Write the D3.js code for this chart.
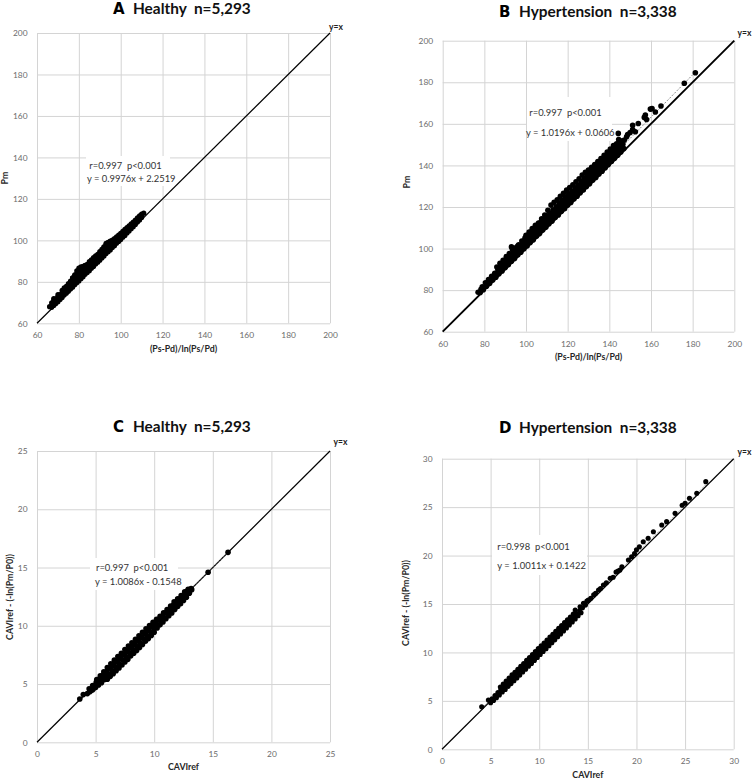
<!DOCTYPE html>
<html><head><meta charset="utf-8">
<script src="https://cdn.jsdelivr.net/npm/d3@7"></script>
<style>
body{margin:0;background:#fff}
svg{display:block}
</style></head><body>
<svg id="chart" width="753" height="779"></svg>
<script>
// ---------------- DATA ----------------
const panelLetters = ["A", "B", "C", "D"];
const panelTitles = ["Healthy\u00a0\u00a0n=5,293", "Hypertension\u00a0\u00a0n=3,338", "Healthy\u00a0\u00a0n=5,293", "Hypertension\u00a0\u00a0n=3,338"];
const xAxisTitles = ["(Ps-Pd)/ln(Ps/Pd)", "(Ps-Pd)/ln(Ps/Pd)", "CAVIref", "CAVIref"];
const yAxisTitles = ["Pm", "Pm", "CAVIref - (-ln(Pm/P0))", "CAVIref - (-ln(Pm/P0))"];
const statLines = [
  ["r=0.997\u00a0\u00a0p<0.001", "y = 0.9976x + 2.2519"],
  ["r=0.997\u00a0\u00a0p<0.001", "y = 1.0196x + 0.0606"],
  ["r=0.997\u00a0\u00a0p<0.001", "y = 1.0086x - 0.1548"],
  ["r=0.998\u00a0\u00a0p<0.001", "y = 1.0011x + 0.1422"]
];
const regSlopes = [0.9976, 1.0196, 1.0086, 1.0011];
const regIntercepts = [2.2519, 0.0606, -0.1548, 0.1422];
const identityLabel = "y=x";
const pressureTicks = [60, 80, 100, 120, 140, 160, 180, 200];
const caviTicksHealthy = [0, 5, 10, 15, 20, 25];
const caviTicksHypertension = [0, 5, 10, 15, 20, 25, 30];

// Panel A: Healthy, Pm vs (Ps-Pd)/ln(Ps/Pd)
const healthyPm = [
 [66,68.0],[67,67.7],[68,68.6],[69,69.5],[70,70.4],[71,71.5],[72,72.4],[73,73.6],[74,74.5],[75,75.4],[76,76.5],[77,77.4],[78,78.6],[79,79.5],[80,80.4],[81,81.5],[82,82.4],[83,83.6],[84,84.5],[85,85.4],[86,86.5],[87,87.4],[88,88.6],[89,89.5],[90,90.4],[91,91.5],[92,92.4],[93,93.6],[94,94.5],[95,95.4],[96,96.5],[97,97.4],[98,98.6],[99,99.5],[100,100.4],[101,101.5],[102,102.4],[103,103.6],[104,104.5],[105,105.6],[106,106.6],[107,107.7],[108,108.8],[109,109.8],[110,111.0],
 [67,69.9],[68,71.1],[69,71.8],[70,72.9],[71,73.8],[72,74.7],[73,75.9],[74,76.8],[75,77.7],[76,78.9],[77,79.8],[78,80.7],[79,81.9],[80,82.8],[81,83.7],[82,84.9],[83,85.8],[84,86.7],[85,87.9],[86,88.8],[87,89.7],[88,90.9],[89,91.8],[90,92.7],[91,93.9],[92,94.8],[93,95.7],[94,96.9],[95,97.8],[96,98.7],[97,99.8],[98,100.7],[99,101.6],[100,102.7],[101,103.6],[102,104.6],[103,105.6],[104,106.5],[105,107.5],[106,108.4],[107,109.4],[108,110.4],[109,111.3],[110,112.2],[111,113.1],
 [77,81.8],[78,82.7],[79,83.9],[80,84.8],[81,85.7],[82,86.9],[83,87.8],[92,96.7],[93,97.9],[94,98.8],[95,99.7],
 [68,71.9],[70,73.8],[72,75.9],[73,77.1],[74,77.8],[75,79.2],[76,80.4],[77,81.9],[78,83.4],[79,85.3],[80,86.6],[81,87.2],[82,87.5],[83,87.9],[84,88.4],[85,89.7],[86,90.6],[87,91.7],[88,92.5],[89,93.3],[90,94.6],[91,95.7],[92,96.9],[93,98.6],[94,99.0],[95,99.4],[96,100.1],[97,100.8],[98,101.7],[99,102.5],[100,103.4],[101,104.3],[102,105.3],[103,106.2],[104,107.0],[105,108.0],[106,108.8],[107,109.8],[108,110.9],[109,111.8],[110,112.7]
];

// Panel B: Hypertension, Pm vs (Ps-Pd)/ln(Ps/Pd)
const hypertensionPm = [
 [77,79.0],[78.4,80.4],
 [78,78.9],[79.5,80.2],[81,81.9],[82.5,83.2],[84,84.9],[85.5,86.2],[87,87.9],[88.5,89.2],[90,90.9],[91.5,92.2],[93,93.9],[94.5,95.2],[96,96.9],[97.5,98.2],[99,99.9],[100.5,101.2],[102,102.9],[103.5,104.2],[105,105.9],[106.5,107.2],[108,108.9],[109.5,110.2],[111,111.9],[112.5,113.2],[114,114.9],[115.5,116.2],[117,117.9],[118.5,119.2],[120,120.9],[121.5,122.2],[123,123.9],[124.5,125.2],[126,126.9],[127.5,128.2],[129,129.9],[130.5,131.2],[132,132.9],[133.5,134.2],[135,135.9],[136.5,137.2],[138,138.9],[139.5,140.4],[141,141.9],[142.5,143.4],[144,144.9],[145.5,146.5],[147,148.1],
 [79,81.6],[80.5,83.5],[82,85.1],[83.5,86.6],[85,88.1],[86.5,89.8],[88,91.2],[89.5,92.6],[91,94.3],[92.5,95.6],[94,97.3],[95.5,98.6],[97,100.3],[98.5,101.7],[100,103.2],[101.5,104.8],[103,106.2],[104.5,107.8],[106,109.3],[107.5,110.7],[109,112.3],[110.5,113.8],[112,115.3],[113.5,116.8],[115,118.3],[116.5,119.8],[118,121.3],[119.5,122.8],[121,124.3],[122.5,125.8],[124,127.3],[125.5,128.8],[127,130.3],[128.5,131.8],[130,133.3],[131.5,134.8],[133,136.3],[134.5,137.8],[136,139.3],[137.5,140.8],[139,142.3],[140.5,143.8],[142,145.4],[143.5,146.9],[145,148.6],[146.5,150.2],
 [86,91.1],[87.5,92.9],[89,94.3],[90.5,96.1],[92,97.6],[93.5,99.6],[95,100.4],[96.5,101.8],[98,103.6],[99.5,105.0],[101,106.4],[102.5,108.1],[104,109.6],[105.5,111.2],[107,112.5],[108.5,114.1],[110,115.7],[111.5,117.1],[113,118.6],[114.5,120.1],[116,121.6],[117.5,123.1],[119,124.6],[120.5,126.1],[122,127.6],[123.5,129.2],[125,130.6],[126.5,132.1],[128,133.7],[129.5,135.1],[131,136.6],[132.5,138.1],[134,139.6],[135.5,141.2],[137,142.6],[138.5,144.1],[140,145.6],[141.5,147.2],[143,148.6],[144.5,150.3],[146,151.7],
 [93,100.8],[96,101.2],[100,106.4],[101.5,107.9],[103,109.6],[104.5,111.2],[106,112.3],[107.5,114.3],[109,116.1],[110.5,118.4],[112,120.9],[113.5,122.3],[115,123.4],[116.5,125.2],[118,126.6],[119.5,128.1],[121,129.4],[122.5,130.7],[124,132.1],[125.5,133.6],[127,135.4],[128.5,136.7],[130,137.8],[131.5,139.1],[133,140.4],[134.5,141.8],[136,143.3],[137.5,144.9],[139,146.4],[140.5,147.9],[142,149.6],[143.5,150.4],[145,151.8],
 [144.3,155.4],[144.5,152.5],[146,150.3],[147.2,152.2],[148.3,153.8],[148.8,154.9],[150,155.8],[151.2,157.3],[151.2,159.3],[152.5,156.2],[153.9,160.2],[156.8,163.1],[157.3,164.2],[157.9,162.1],[159.7,167.1],[160.5,167.3],[162.1,165.7],[164.8,168.6],[176,179.5],[181.3,184.6]
];

// Panel C: Healthy, CAVIref-(-ln(Pm/P0)) vs CAVIref
const healthyCavi = [
 [3.65,3.72],[3.95,4.1],[4.3,4.18],[4.5,4.34],[4.45,4.6],
 [4.75,4.5],[5,4.7],[5.25,4.92],[5.5,5.12],[5.75,5.38],[6,5.42],[6.25,5.66],[6.5,5.88],[6.75,6.15],[7,6.38],[7.25,6.63],[7.5,6.9],[7.75,7.12],[8,7.42],[8.25,7.65],[8.5,7.88],[8.75,8.14],[9,8.4],[9.25,8.68],[9.5,8.9],[9.75,9.16],[10,9.45],[10.25,9.82],[10.5,10.08],[10.75,10.33],[11,10.6],[11.25,10.86],[11.5,11.1],[11.75,11.4],[12,11.66],[12.25,11.9],[12.5,12.18],[12.75,12.45],
 [4.6,4.45],[4.9,4.68],[5.2,4.96],[5.5,5.26],[5.8,5.55],[6.1,5.84],[6.4,6.14],[6.7,6.46],[7,6.74],[7.3,7.06],[7.6,7.34],[7.9,7.66],[8.2,7.94],[8.5,8.26],[8.8,8.54],[9.1,8.86],[9.4,9.14],[9.7,9.46],[10,9.76],[10.3,10.06],[10.6,10.36],[10.9,10.66],[11.2,10.96],[11.5,11.28],[11.8,11.58],[12.1,11.88],[12.4,12.2],[12.7,12.5],[13,12.8],
 [4.75,4.88],[5.05,5.16],[5.35,5.46],[5.65,5.76],[5.95,6.07],[6.25,6.36],[6.55,6.66],[6.85,6.97],[7.15,7.26],[7.45,7.56],[7.75,7.87],[8.05,8.16],[8.35,8.46],[8.65,8.77],[8.95,9.06],[9.25,9.36],[9.55,9.67],[9.85,9.96],[10.15,10.26],[10.45,10.56],[10.75,10.87],[11.05,11.16],[11.35,11.46],[11.65,11.77],[11.95,12.06],[12.25,12.36],[12.55,12.66],[12.85,12.97],[13.15,13.2],
 [5.1,5.38],[5.4,5.7],[5.7,6.04],[6,6.42],[6.3,6.74],[6.6,7.05],[6.9,7.36],[7.2,7.64],[7.5,7.96],[7.8,8.26],[8.1,8.55],[8.4,8.84],[8.7,9.14],[9,9.44],[9.3,9.74],[9.6,10.02],[9.9,10.3],[10.2,10.55],[10.5,10.82],[10.8,11.12],[11.1,11.4],[11.4,11.7],[11.7,12.05],[12,12.32],[12.3,12.6],[12.6,12.92],[12.9,13.14],
 [11.8,11.95],[12.2,12.25],[12.9,13.07],[13.2,13.1],[14.6,14.6],[16.3,16.3]
];

// Panel D: Hypertension, CAVIref-(-ln(Pm/P0)) vs CAVIref
const hypertensionCavi = [
 [4.08,4.4],[4.77,5.09],
 [5,4.8],[5.3,5.05],[5.6,5.32],[5.9,5.6],[6.2,5.92],[6.5,6.18],[6.8,6.5],[7.1,6.78],[7.4,7.08],[7.7,7.36],[8,7.66],[8.3,7.98],[8.6,8.26],[8.9,8.58],[9.2,8.86],[9.5,9.18],[9.8,9.48],[10.1,9.78],[10.4,10.1],[10.7,10.38],[11,10.7],[11.3,11.0],[11.6,11.3],[11.9,11.62],[12.2,11.9],[12.5,12.22],[12.8,12.52],[13.1,12.84],[13.4,13.14],[13.7,13.46],[14,13.78],[14.3,14.1],
 [5.15,5.22],[5.45,5.55],[5.75,5.86],[6.05,6.14],[6.35,6.46],[6.65,6.76],[6.95,7.06],[7.25,7.38],[7.55,7.66],[7.85,7.98],[8.15,8.26],[8.45,8.58],[8.75,8.88],[9.05,9.18],[9.35,9.46],[9.65,9.78],[9.95,10.06],[10.25,10.38],[10.55,10.68],[10.85,10.98],[11.15,11.28],[11.45,11.58],[11.75,11.88],[12.05,12.18],[12.35,12.48],[12.65,12.78],[12.95,13.08],[13.25,13.38],[13.55,13.68],[13.85,13.98],[14.15,14.3],[14.45,14.62],[14.75,14.9],
 [6,6.42],[6.3,6.74],[6.6,7.04],[6.9,7.35],[7.2,7.68],[7.5,7.96],[7.8,8.26],[8.1,8.58],[8.4,8.86],[8.7,9.18],[9,9.48],[9.3,9.78],[9.6,10.08],[9.9,10.4],[10.2,10.68],[10.5,10.98],[10.8,11.28],[11.1,11.6],[11.4,11.88],[11.7,12.18],[12,12.5],[12.3,12.78],[12.6,13.08],[12.9,13.38],[13.2,13.64],[13.5,13.96],
 [13.7,14.38],[14.2,14.72],[14.55,15.07],[14.9,15.3],[15.05,15.41],[15.3,15.6],[15.6,15.94],[15.8,16.1],[16.1,16.45],[16.3,16.6],[16.6,16.96],[16.9,17.2],[17.3,17.66],[17.6,17.76],[17.9,18.3],[18.1,18.4],[18.3,18.5],[18.5,18.85],[19.17,19.54],[19.5,19.88],[19.8,20.2],[20,20.6],[20.3,20.9],[20.7,21.43],[21.2,21.78],[21.74,22.46],[22.6,23.15],[23.1,23.5],[23.97,24.36],[24.7,25.2],[25,25.4],[25.45,25.91],[26.2,26.43],[27.13,27.63]
];

const panelData = [healthyPm, hypertensionPm, healthyCavi, hypertensionCavi];
const panelTicks = [pressureTicks, pressureTicks, caviTicksHealthy, caviTicksHypertension];

// ---------------- LAYOUT (pixels / styles) ----------------
const layout = [
  {xr:[37,330], yr:[323.3,33], letterX:113, titleX:133, titleY:13.8, yxX:336, yxY:29.5, yLabX:7.5, yLabY:178, xLabY:351.5, box:[86,156,170,186], annX:[89.3,87], annY:[169,182.3], r:2.6, lw:1.2},
  {xr:[442.7,734.3], yr:[331.7,40.7], letterX:499, titleX:519, titleY:16.5, yxX:744.5, yxY:36, yLabX:409.5, yLabY:182, xLabY:359.5, box:[527,97,612,141], annX:[529.3,526], annY:[115.5,136], r:2.8, lw:1.9},
  {xr:[37,330], yr:[742.3,451], letterX:113, titleX:133, titleY:431.7, yxX:340.5, yxY:444.5, yLabX:12.5, yLabY:597, xLabY:770, box:[90,558,178,590], annX:[96,95], annY:[570.5,585], r:2.8, lw:1.2},
  {xr:[442,733.7], yr:[749.3,458.7], letterX:499, titleX:519, titleY:433, yxX:744.5, yxY:454.5, yLabX:408.5, yLabY:603, xLabY:778, box:[492,535,587,575], annX:[497.3,497.3], annY:[550,568.5], r:2.55, lw:1.2}
];

const FONT = "Lato, 'Open Sans', 'Liberation Sans', sans-serif";
const svg = d3.select('#chart');

panelLetters.forEach((letter, i) => {
  const L = layout[i];
  const ticks = panelTicks[i];
  const dom = [ticks[0], ticks[ticks.length - 1]];
  const x = d3.scaleLinear().domain(dom).range(L.xr);
  const y = d3.scaleLinear().domain(dom).range(L.yr);
  const w = L.xr[1] - L.xr[0], h = L.yr[0] - L.yr[1];
  const g = svg.append('g');

  // grid lines
  const gx = g.append('g').attr('transform', `translate(0,${L.yr[0]})`)
    .call(d3.axisBottom(x).tickValues(ticks).tickSize(-h).tickFormat(''));
  const gy = g.append('g').attr('transform', `translate(${L.xr[0]},0)`)
    .call(d3.axisLeft(y).tickValues(ticks).tickSize(-w).tickFormat(''));
  [gx, gy].forEach(a => {
    a.select('.domain').remove();
    a.selectAll('line').attr('stroke', '#d4d4d4').attr('stroke-width', 1);
  });

  // tick labels
  const lx = g.append('g').attr('transform', `translate(0,${L.yr[0]})`)
    .call(d3.axisBottom(x).tickValues(ticks).tickSize(0).tickPadding(9));
  const ly = g.append('g').attr('transform', `translate(${L.xr[0]},0)`)
    .call(d3.axisLeft(y).tickValues(ticks).tickSize(0).tickPadding(9.5));
  [lx, ly].forEach(a => {
    a.select('.domain').remove();
    a.selectAll('text').attr('fill', '#6b6b6b').style('font-family', FONT).style('font-size', '8.4px');
  });

  // annotation white box (covers gridlines)
  g.append('rect').attr('x', L.box[0]).attr('y', L.box[1])
    .attr('width', L.box[2] - L.box[0]).attr('height', L.box[3] - L.box[1]).attr('fill', '#fff');

  // y = x identity line
  g.append('line')
    .attr('x1', x(dom[0])).attr('y1', y(dom[0]))
    .attr('x2', x(dom[1])).attr('y2', y(dom[1]))
    .attr('stroke', '#000').attr('stroke-width', L.lw);

  // regression trendline
  const data = panelData[i];
  const xe = d3.extent(data, d => d[0]);
  g.append('line')
    .attr('x1', x(xe[0])).attr('y1', y(regSlopes[i] * xe[0] + regIntercepts[i]))
    .attr('x2', x(xe[1])).attr('y2', y(regSlopes[i] * xe[1] + regIntercepts[i]))
    .attr('stroke', '#8c8c8c').attr('stroke-width', 1).attr('stroke-dasharray', '2,1.5');

  // points
  g.append('g').selectAll('circle').data(data).join('circle')
    .attr('cx', d => x(d[0])).attr('cy', d => y(d[1])).attr('r', L.r).attr('fill', '#000');

  // stats text
  statLines[i].forEach((t, k) => {
    g.append('text').attr('x', L.annX[k]).attr('y', L.annY[k]).text(t)
      .attr('fill', '#333').style('font-family', FONT).style('font-size', '9.4px');
  });

  // y=x label
  g.append('text').attr('x', L.yxX).attr('y', L.yxY).attr('text-anchor', 'middle').text(identityLabel)
    .attr('fill', '#222').style('font-family', FONT).style('font-weight', 'bold').style('font-size', '8.5px');

  // axis titles
  g.append('text').attr('x', (L.xr[0] + L.xr[1]) / 2).attr('y', L.xLabY).attr('text-anchor', 'middle')
    .text(xAxisTitles[i]).attr('fill', '#262626').style('font-family', FONT).style('font-weight', 'bold').style('font-size', '8.8px');
  g.append('text').attr('transform', `translate(${L.yLabX},${L.yLabY}) rotate(-90)`).attr('text-anchor', 'middle')
    .text(yAxisTitles[i]).attr('fill', '#262626').style('font-family', FONT).style('font-weight', 'bold').style('font-size', '8.8px');

  // panel title
  g.append('text').attr('x', L.letterX).attr('y', L.titleY).text(letter)
    .attr('fill', '#000').style('font-family', "'DejaVu Sans', sans-serif").style('font-weight', 'bold').style('font-size', '15px');
  g.append('text').attr('x', L.titleX).attr('y', L.titleY).text(panelTitles[i])
    .attr('fill', '#111').style('font-family', FONT).style('font-weight', 'bold').style('font-size', '15.4px');
});
</script>
</body></html>
